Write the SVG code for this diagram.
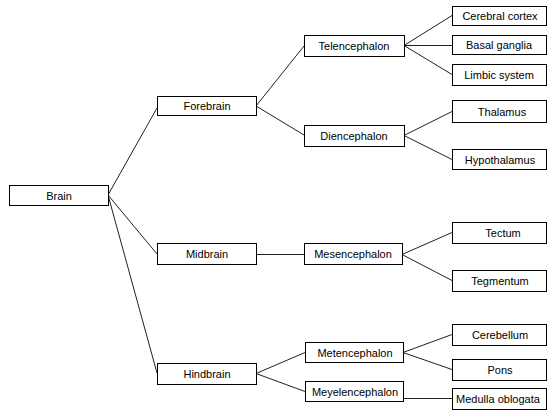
<svg xmlns="http://www.w3.org/2000/svg" width="548" height="410" viewBox="0 0 548 410">
  <style>
    .box rect { fill: #ffffff; stroke: #000000; stroke-width: 1; }
    .box text { font-family: "Liberation Sans", Arial, sans-serif; font-size: 11px; fill: #000000; text-anchor: middle; dominant-baseline: central; }
    .links line { stroke: #202020; stroke-width: 1; }
  </style>
  <rect width="548" height="410" fill="#ffffff"/>

  <!-- connectors -->
  <g class="links">
    <line x1="108" y1="195" x2="157" y2="108"/>
    <line x1="108" y1="195" x2="157" y2="254"/>
    <line x1="108" y1="195" x2="157" y2="373"/>
    <line x1="256" y1="106" x2="304" y2="46"/>
    <line x1="256" y1="106" x2="304" y2="135"/>
    <line x1="404" y1="45.5" x2="452" y2="15.5"/>
    <line x1="404" y1="45.5" x2="452" y2="45.5"/>
    <line x1="404" y1="45.5" x2="452" y2="74.5"/>
    <line x1="404" y1="135.5" x2="452" y2="111.5"/>
    <line x1="404" y1="135.5" x2="452" y2="159.5"/>
    <line x1="256" y1="254.5" x2="304" y2="254.5"/>
    <line x1="402" y1="254.5" x2="452" y2="232.5"/>
    <line x1="402" y1="254.5" x2="452" y2="280.5"/>
    <line x1="256" y1="373.5" x2="305" y2="352.5"/>
    <line x1="256" y1="373.5" x2="305" y2="391.5"/>
    <line x1="403" y1="352.5" x2="452" y2="334.5"/>
    <line x1="403" y1="352.5" x2="452" y2="369.5"/>
    <line x1="403" y1="398.5" x2="452" y2="398.5"/>
  </g>

  <!-- level 0 -->
  <g id="brain" class="box"><rect x="9.5" y="185.5" width="99" height="20"/><text x="59" y="195.5">Brain</text></g>

  <!-- level 1 -->
  <g id="forebrain" class="box"><rect x="157.5" y="96.5" width="99" height="19"/><text x="207" y="106">Forebrain</text></g>
  <g id="midbrain" class="box"><rect x="157.5" y="243.5" width="99" height="21"/><text x="207" y="254">Midbrain</text></g>
  <g id="hindbrain" class="box"><rect x="157.5" y="363.5" width="99" height="21"/><text x="207" y="374">Hindbrain</text></g>

  <!-- level 2 -->
  <g id="telencephalon" class="box"><rect x="304.5" y="35.5" width="100" height="21"/><text x="354" y="46">Telencephalon</text></g>
  <g id="diencephalon" class="box"><rect x="304.5" y="125.5" width="100" height="21"/><text x="354" y="136">Diencephalon</text></g>
  <g id="mesencephalon" class="box"><rect x="304.5" y="243.5" width="98" height="21"/><text x="353" y="254">Mesencephalon</text></g>
  <g id="metencephalon" class="box"><rect x="305.5" y="342.5" width="98" height="20"/><text x="355" y="352.5">Metencephalon</text></g>
  <g id="meyelencephalon" class="box"><rect x="305.5" y="381.5" width="98" height="20"/><text x="355" y="391.5">Meyelencephalon</text></g>

  <!-- level 3 -->
  <g id="cerebral-cortex" class="box"><rect x="452.5" y="6.5" width="94" height="19"/><text x="500" y="16">Cerebral cortex</text></g>
  <g id="basal-ganglia" class="box"><rect x="452.5" y="35.5" width="94" height="19"/><text x="499" y="45">Basal ganglia</text></g>
  <g id="limbic-system" class="box"><rect x="452.5" y="64.5" width="94" height="21"/><text x="499" y="75">Limbic system</text></g>
  <g id="thalamus" class="box"><rect x="452.5" y="100.5" width="94" height="22"/><text x="502" y="111.5">Thalamus</text></g>
  <g id="hypothalamus" class="box"><rect x="452.5" y="149.5" width="94" height="20"/><text x="500" y="159.5">Hypothalamus</text></g>
  <g id="tectum" class="box"><rect x="452.5" y="222.5" width="94" height="21"/><text x="503" y="233">Tectum</text></g>
  <g id="tegmentum" class="box"><rect x="452.5" y="270.5" width="94" height="21"/><text x="500" y="281">Tegmentum</text></g>
  <g id="cerebellum" class="box"><rect x="452.5" y="324.5" width="94" height="21"/><text x="500" y="335">Cerebellum</text></g>
  <g id="pons" class="box"><rect x="452.5" y="359.5" width="94" height="21"/><text x="500" y="370">Pons</text></g>
  <g id="medulla-oblogata" class="box"><rect x="452.5" y="388.5" width="94" height="21"/><text x="498" y="399">Medulla oblogata</text></g>
</svg>
